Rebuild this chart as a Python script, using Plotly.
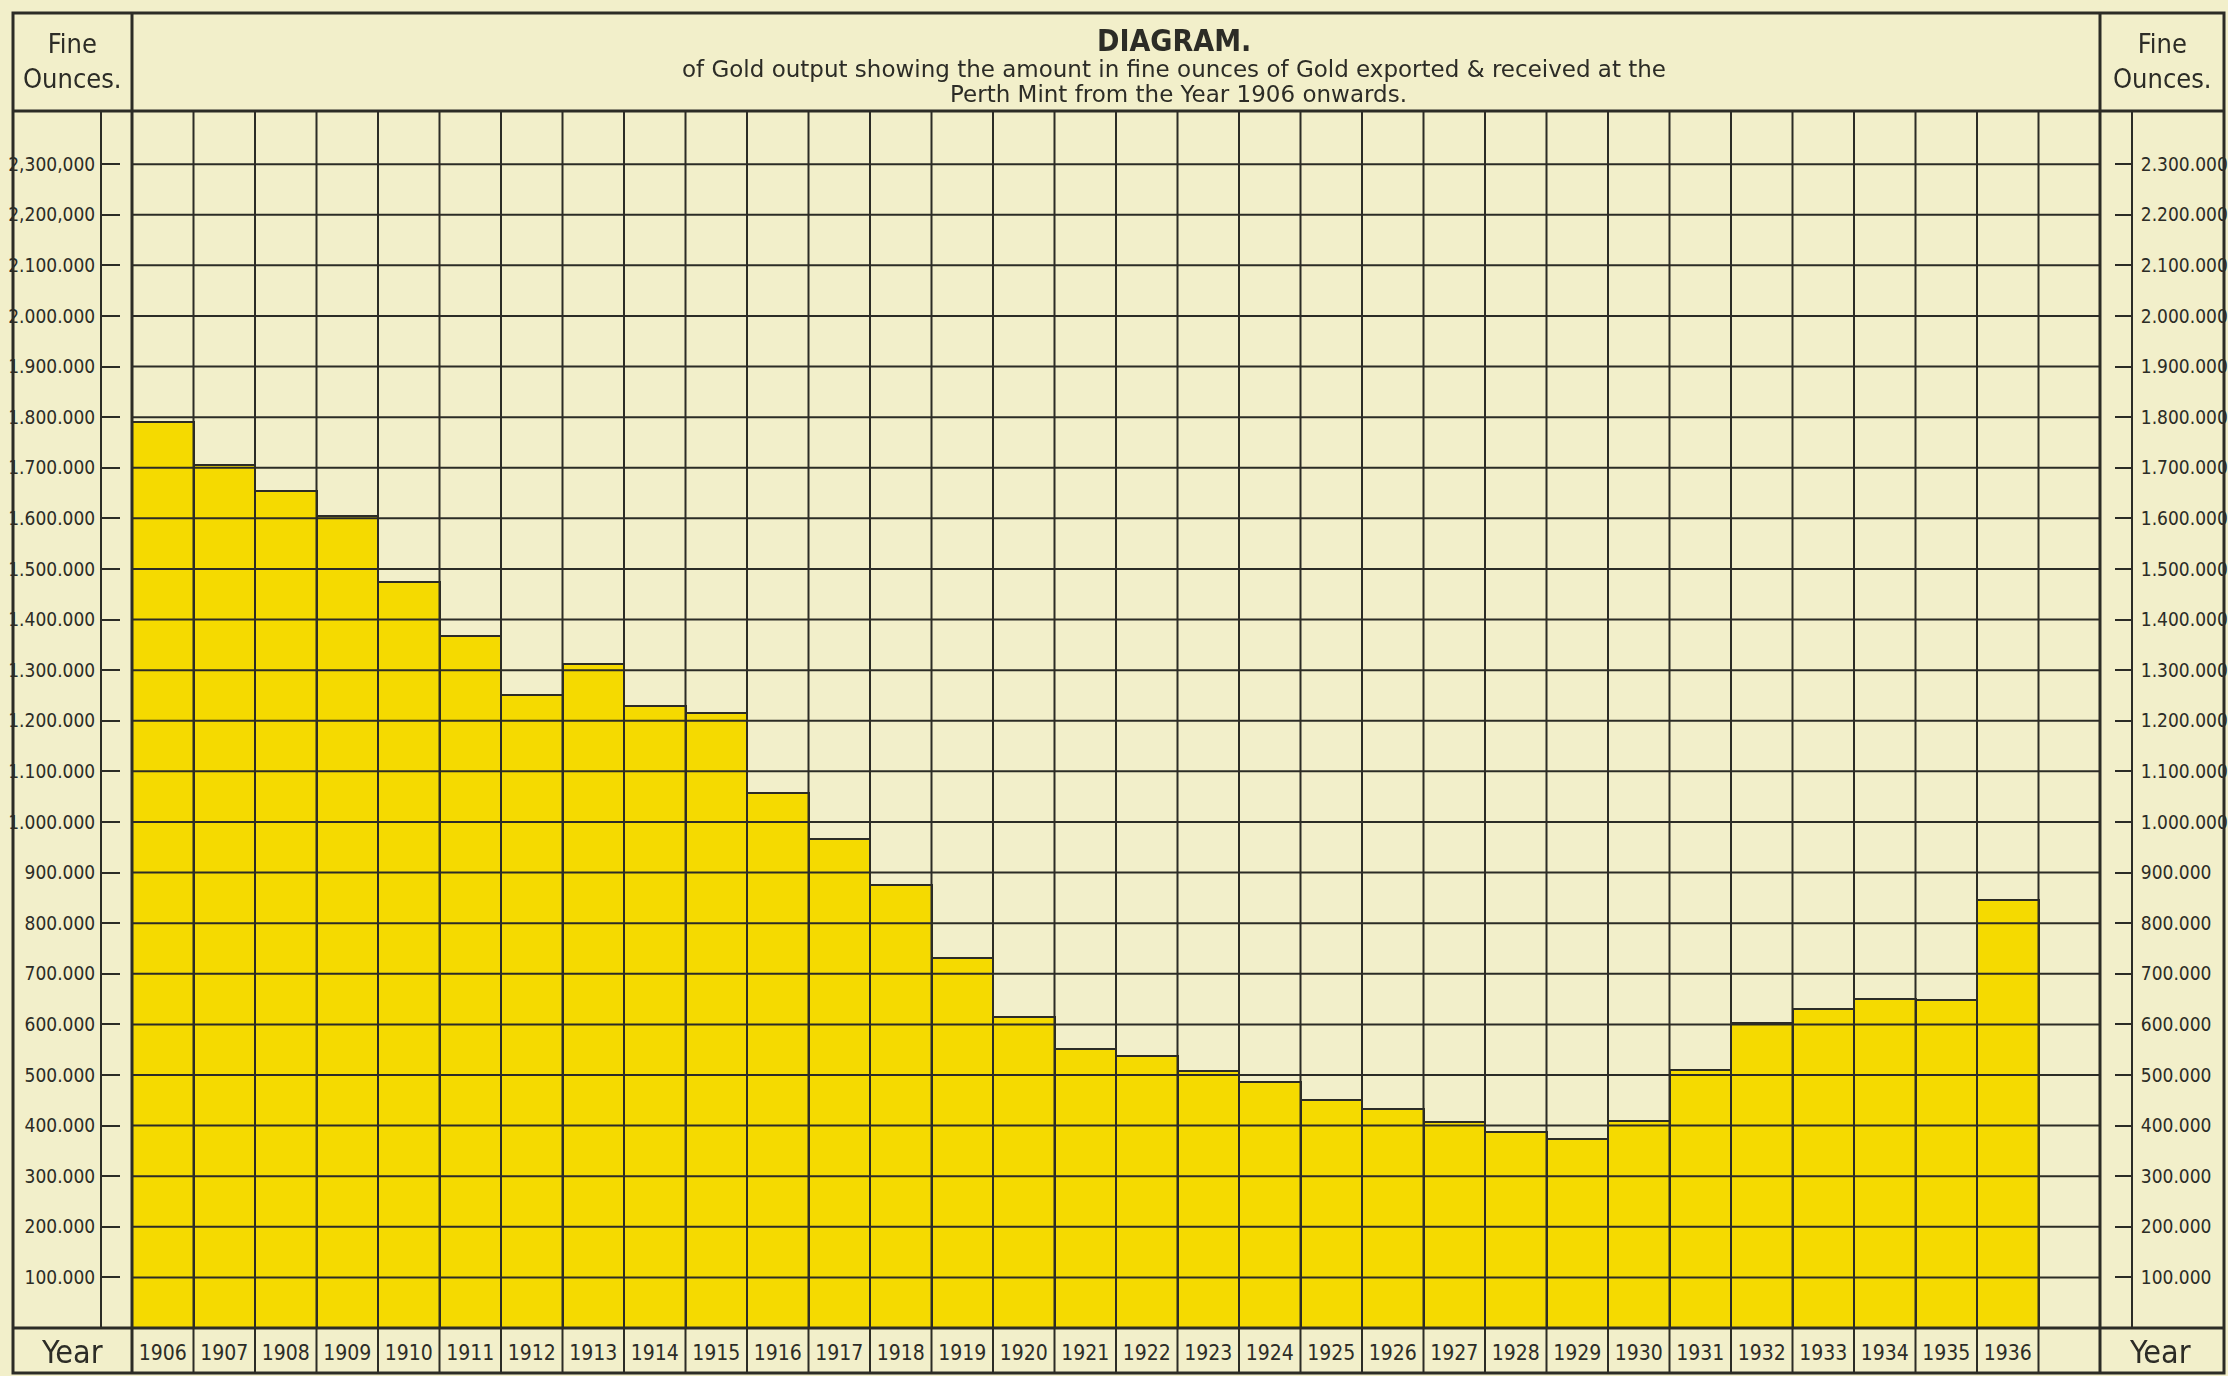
import plotly.graph_objects as go

# ---------------- data ----------------
years = list(range(1906, 1937))
fine_ounces = [
    1790000, 1705000, 1655000, 1605000, 1475000, 1368000, 1250000, 1313000,
    1229000, 1216000, 1058000, 966000, 875000, 732000, 615000, 552000,
    538000, 508000, 487000, 450000, 432000, 408000, 388000, 374000,
    409000, 510000, 603000, 630000, 650000, 648000, 846000,
]
year_labels = [str(y) for y in years]
ytick_vals = [100000 * k for k in range(1, 24)]
ytick_left = ["100.000", "200.000", "300.000", "400.000", "500.000", "600.000",
              "700.000", "800.000", "900.000", "1.000.000", "1.100.000",
              "1.200.000", "1.300.000", "1.400.000", "1.500.000", "1.600.000",
              "1.700.000", "1.800.000", "1.900.000", "2.000.000", "2.100.000",
              "2,200,000", "2,300,000"]
ytick_right = ["100.000", "200.000", "300.000", "400.000", "500.000", "600.000",
               "700.000", "800.000", "900.000", "1.000.000", "1.100.000",
               "1.200.000", "1.300.000", "1.400.000", "1.500.000", "1.600.000",
               "1.700.000", "1.800.000", "1.900.000", "2.000.000", "2.100.000",
               "2.200.000", "2.300.000"]
header_label = "Fine<br>Ounces."
row_label = "Year"
title_main = "DIAGRAM."
subtitle_1 = "of Gold output showing the amount in fine ounces of Gold exported &amp; received at the"
subtitle_2 = "Perth Mint from the Year 1906 onwards."

# ---------------- style ----------------
W, H = 2228, 1376
PAPER = "#F2EFCA"
INK = "#2c2c26"
BAR = "#F5DA00"
NARROW = "Liberation Sans Narrow, DejaVu Sans Condensed, Roboto Condensed, Arial Narrow, sans-serif"
WIDE = "DejaVu Sans, Verdana, sans-serif"

def px(x):
    return x / W

def py(y):
    return 1 - y / H

X_LEFT, X_RIGHT = 132, 2100
Y_TOP, Y_BOT = 111, 1328
FRAME_L, FRAME_R, FRAME_T, FRAME_B = 13, 2224, 13, 1373
x_lo, x_hi = years[0] - 0.5, years[-1] + 1.5  # one empty column after 1936
y_hi = 2405000

fig = go.Figure()
fig.add_trace(go.Bar(
    x=years, y=fine_ounces, width=1,
    marker=dict(color=BAR, line=dict(color=INK, width=2)),
    hoverinfo="skip", showlegend=False,
))
# invisible helpers so the side axes are drawn
for ax in ("y2", "y3"):
    fig.add_trace(go.Scatter(x=years, y=fine_ounces, yaxis=ax, mode="markers",
                             opacity=0, hoverinfo="skip", showlegend=False))

shapes = []
line_main = dict(color=INK, width=3)
line_grid = dict(color=INK, width=2)
# outer frame
shapes.append(dict(type="rect", xref="paper", yref="paper",
                   x0=px(FRAME_L), x1=px(FRAME_R), y0=py(FRAME_B), y1=py(FRAME_T),
                   line=line_main, layer="above"))
# header bottom and year-row top
for yy in (Y_TOP, Y_BOT):
    shapes.append(dict(type="line", xref="paper", yref="paper",
                       x0=px(FRAME_L), x1=px(FRAME_R), y0=py(yy), y1=py(yy),
                       line=line_main, layer="above"))
# plot side borders across full height
for xx in (X_LEFT, X_RIGHT):
    shapes.append(dict(type="line", xref="paper", yref="paper",
                       x0=px(xx), x1=px(xx), y0=py(FRAME_B), y1=py(FRAME_T),
                       line=line_main, layer="above"))
# vertical column lines (through plot and year row)
b = x_lo + 1
while b < x_hi - 0.01:
    shapes.append(dict(type="line", xref="x", yref="paper",
                       x0=b, x1=b, y0=py(FRAME_B), y1=py(Y_TOP),
                       line=line_grid, layer="above"))
    b += 1
# horizontal grid lines
for v in ytick_vals:
    shapes.append(dict(type="line", xref="x", yref="y",
                       x0=x_lo, x1=x_hi, y0=v, y1=v,
                       line=line_grid, layer="above"))

annotations = []
def txt(text, x, y, size, family=NARROW, bold=False):
    annotations.append(dict(
        text=f"<b>{text}</b>" if bold else text,
        xref="paper", yref="paper", x=px(x), y=py(y),
        xanchor="center", yanchor="middle", showarrow=False, align="center",
        font=dict(family=family, size=size, color=INK)))

txt(header_label, 72, 61, 27)
txt(header_label, 2162, 61, 27)
txt(title_main, 1174, 40, 30, bold=True)
txt(subtitle_1, 1174, 69, 23, family=WIDE)
txt(subtitle_2, 1178, 94, 23, family=WIDE)
txt(row_label, 72, 1352, 32)
txt(row_label, 2160, 1352, 32)

axis_common = dict(range=[0, y_hi], domain=[py(Y_BOT), py(Y_TOP)],
                   showgrid=False, zeroline=False, fixedrange=True)

fig.update_layout(
    width=W, height=H,
    margin=dict(l=0, r=0, t=0, b=0, pad=0),
    paper_bgcolor=PAPER, plot_bgcolor=PAPER,
    bargap=0,
    shapes=shapes, annotations=annotations,
    xaxis=dict(range=[x_lo, x_hi], domain=[px(X_LEFT), px(X_RIGHT)],
               tickmode="array", tickvals=years, ticktext=year_labels,
               ticks="", showgrid=False, zeroline=False, showline=False,
               ticklabelstandoff=10,
               tickfont=dict(family=NARROW, size=21, color=INK), fixedrange=True),
    yaxis=dict(**axis_common, showticklabels=False, ticks="", showline=False),
    yaxis2=dict(**axis_common, overlaying="y", anchor="free", side="left",
                position=px(101), showline=True, linecolor=INK, linewidth=2,
                ticks="inside", ticklen=18, tickwidth=2, tickcolor=INK,
                tickmode="array", tickvals=ytick_vals, ticktext=ytick_left,
                ticklabelstandoff=1,
                tickfont=dict(family=NARROW, size=19, color=INK)),
    yaxis3=dict(**axis_common, overlaying="y", anchor="free", side="right",
                position=px(2132), showline=True, linecolor=INK, linewidth=2,
                ticks="inside", ticklen=16, tickwidth=2, tickcolor=INK,
                tickmode="array", tickvals=ytick_vals, ticktext=ytick_right,
                ticklabelstandoff=4,
                tickfont=dict(family=NARROW, size=19, color=INK)),
)

fig.write_html("out.html", config={"displayModeBar": False},
               post_script="document.body.style.margin='0';")
